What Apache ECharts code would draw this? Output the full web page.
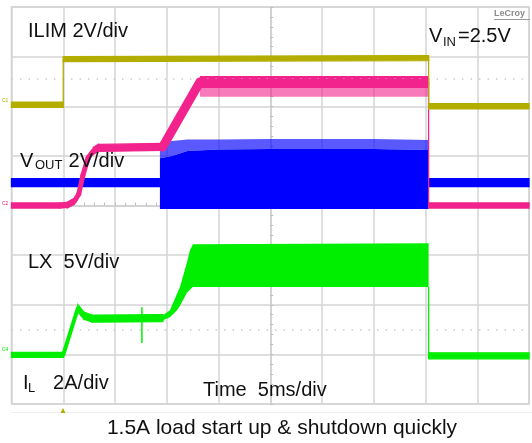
<!DOCTYPE html>
<html><head><meta charset="utf-8">
<script src="https://cdn.jsdelivr.net/npm/echarts@6/dist/echarts.min.js"></script>
<style>html,body{margin:0;padding:0;background:#fff;}#c{width:532px;height:443px;}</style>
</head><body><div id="c"></div>
<script>
// time in ms relative to screen centre (5 ms/div), amplitude in divisions
// ILIM (yellow)
const ilimT = [-25, -20, -20, 15.3, 15.3, 25];
const ilimV = [2.03, 2.03, 2.95, 2.97, 2.0, 2.0];
// VOUT (pink)
const voutT = [-25, -20.3, -19.6, -18.9, -18.5, -18.1, -17.6, -17.1, -16.6, -10.4, -6.8, 15.3, 15.3, 25];
const voutV = [0.0, 0.0, 0.01, 0.09, 0.23, 0.61, 0.96, 1.1, 1.16, 1.18, 2.49, 2.49, 0.0, 0.0];
// VOUT noisy plateau envelope
const voutBandT = [-6.8, 15.3];
const voutCoreLo = [2.37, 2.37];
const voutCoreHi = [2.61, 2.61];
const voutSpikeLo = [2.19, 2.19];
// LX (blue) quiet parts
const lxPreT = [-25, -10.66];
const lxPreV = [0.46, 0.46];
const lxPostT = [15.3, 25];
const lxPostV = [0.46, 0.46];
// LX switching envelope
const lxBandT = [-10.66, -9.5, -8.0, -5.0, 0, 10, 15.3];
const lxBandLo = [-0.07, -0.07, -0.07, -0.07, -0.07, -0.07, -0.07];
const lxBandHi = [0.95, 1.0, 1.1, 1.13, 1.14, 1.14, 1.12];
const lxSpikeHi = [1.26, 1.3, 1.33, 1.33, 1.34, 1.34, 1.32];
// IL (green)
const ilT = [-25, -20, -18.59, -18.0, -17.2, -10.37];
const ilV = [-3.01, -3.01, -2.07, -2.22, -2.28, -2.27];
const ilSpikeT = [-12.4, -12.4];
const ilSpikeV = [-2.05, -2.77];
const ilBandT = [-10.37, -9.69, -9.01, -8.72, -8.05, -7.76, -7.47, 15.3];
const ilBandLo = [-2.31, -2.25, -2.11, -2.02, -1.76, -1.70, -1.64, -1.64];
const ilBandHi = [-2.21, -2.11, -1.78, -1.64, -1.15, -0.90, -0.78, -0.76];
const ilPostT = [15.3, 15.3, 25];
const ilPostV = [-1.64, -3.03, -3.03];
// cursor lines
const cursorLevels = [2.55, -2.51];

// style: per-segment vertical trace thickness (px) and stroke width (px)
const ilimSegH = [5, 0, 5, 0, 5];
const ilimSegW = [1.3, 1.3, 1.3, 1.3, 1.3];
const voutSegH = [5, 5, 6, 0, 0, 0, 0, 7, 7, 0, 5, 0, 5];
const voutSegW = [1.3, 1.3, 1.3, 5, 5, 5, 5, 1.3, 1.3, 9, 1.3, 1.3, 1.3];
const lxPreSegH = [8], lxPreSegW = [1.3];
const lxPostSegH = [8], lxPostSegW = [1.3];
const ilSegH = [5, 0, 7, 7, 7];
const ilSegW = [1.3, 4, 1.3, 1.3, 1.3];
const ilPostSegH = [0, 6];
const ilPostSegW = [1.3, 1.3];

const YEL = '#b3ad00', PINK = '#f2238c', BLUE = '#0000ff', GREEN = '#00ee00';

function pairs(t, v) { return t.map((x, i) => [x, v[i]]); }
function trace(name, t, v, segH, segW, color, z) {
  return { name, type: 'custom', silent: true, animation: false, z, data: pairs(t, v),
    renderItem: function (params, api) {
      if (params.dataIndex !== 0) return null;
      const children = [];
      for (let i = 0; i < t.length - 1; i++) {
        const p1 = api.coord([t[i], v[i]]), p2 = api.coord([t[i + 1], v[i + 1]]);
        const h = segH[i] / 2;
        if (h > 0) {
          children.push({ type: 'polygon', shape: { points: [[p1[0], p1[1] - h], [p2[0], p2[1] - h], [p2[0], p2[1] + h], [p1[0], p1[1] + h]] },
            style: { fill: color, stroke: color, lineWidth: 1.3 } });
        } else {
          children.push({ type: 'line', shape: { x1: p1[0], y1: p1[1], x2: p2[0], y2: p2[1] },
            style: { stroke: color, lineWidth: segW[i], lineCap: segW[i] > 2 ? 'round' : 'butt' } });
        }
      }
      return { type: 'group', children };
    } };
}
function band(name, t, lo, hi, color, opacity, z) {
  return { name, type: 'custom', silent: true, animation: false, z,
    data: t.map((x, i) => [x, lo[i], hi[i]]),
    renderItem: function (params, api) {
      if (params.dataIndex !== 0) return null;
      const pts = [];
      for (let i = 0; i < t.length; i++) pts.push(api.coord([t[i], lo[i]]));
      for (let i = t.length - 1; i >= 0; i--) pts.push(api.coord([t[i], hi[i]]));
      return { type: 'polygon', shape: { points: pts }, style: { fill: color, opacity } };
    } };
}

const chart = echarts.init(document.getElementById('c'), null, { renderer: 'canvas' });
const TXT = '"Liberation Sans", Arial, sans-serif';
function txt(x, y, s, size, color, align) {
  return { type: 'text', x, y, z: 100, style: { text: s, font: size + 'px ' + TXT, fill: color || '#111',
    textAlign: align || 'left', textVerticalAlign: 'middle' } };
}

chart.setOption({
  backgroundColor: '#fff',
  animation: false,
  grid: { left: 11.5, right: 3, top: 7, bottom: 39, show: true, borderColor: '#cfcfcf', borderWidth: 1.5 },
  xAxis: { type: 'value', min: -25, max: 25, interval: 5,
    axisLabel: { show: false },
    axisLine: { show: true, onZero: true, lineStyle: { color: '#cfcfcf', width: 1.5 } },
    axisTick: { show: true, length: 3, inside: true, lineStyle: { color: '#bdbdbd' } },
    minorTick: { show: true, splitNumber: 5, length: 3, lineStyle: { color: '#bdbdbd' } },
    splitLine: { show: true, lineStyle: { color: '#d4d4d4', width: 1.5 } } },
  yAxis: { type: 'value', min: -4, max: 4, interval: 1,
    axisLabel: { show: false },
    axisLine: { show: true, onZero: true, lineStyle: { color: '#cfcfcf', width: 1.5 } },
    axisTick: { show: true, length: 3, inside: true, lineStyle: { color: '#bdbdbd' } },
    minorTick: { show: true, splitNumber: 5, length: 3, lineStyle: { color: '#bdbdbd' } },
    splitLine: { show: true, lineStyle: { color: '#d4d4d4', width: 1.5 } } },
  series: [
    { type: 'line', data: [], silent: true,
      markLine: { silent: true, symbol: 'none', label: { show: false }, animation: false,
        lineStyle: { color: '#cccccc', type: [1.5, 7], width: 1.5 },
        data: cursorLevels.map(v => ({ yAxis: v })) } },
    band('lxSpike', lxBandT, lxBandHi, lxSpikeHi, BLUE, 0.65, 2),
    band('lxBand', lxBandT, lxBandLo, lxBandHi, BLUE, 1, 3),
    trace('lxPre', lxPreT, lxPreV, lxPreSegH, lxPreSegW, BLUE, 3),
    trace('lxPost', lxPostT, lxPostV, lxPostSegH, lxPostSegW, BLUE, 3),
    band('voutSpike', voutBandT, voutSpikeLo, voutCoreLo, PINK, 0.6, 4),
    band('voutCore', voutBandT, voutCoreLo, voutCoreHi, PINK, 1, 4),
    trace('vout', voutT, voutV, voutSegH, voutSegW, PINK, 5),
    trace('ilim', ilimT, ilimV, ilimSegH, ilimSegW, YEL, 5),
    band('ilBand', ilBandT, ilBandLo, ilBandHi, GREEN, 1, 5),
    trace('il', ilT, ilV, ilSegH, ilSegW, GREEN, 6),
    { name: 'ilSpike', type: 'line', data: pairs(ilSpikeT, ilSpikeV), showSymbol: false, silent: true, animation: false,
      lineStyle: { color: GREEN, width: 1.5 }, z: 6 },
    trace('ilPost', ilPostT, ilPostV, ilPostSegH, ilPostSegW, GREEN, 6)
  ],
  graphic: [
    txt(28, 31, 'ILIM 2V/div', 20),
    txt(20, 161, 'V', 20), txt(35, 165, 'OUT', 13), txt(63, 161, ' 2V/div', 20),
    txt(28, 262, 'LX  5V/div', 20),
    txt(23, 383, 'I', 20), txt(28, 388, 'L', 13), txt(42, 383, '  2A/div', 20),
    txt(203, 390, 'Time  5ms/div', 20),
    txt(429, 36, 'V', 20), txt(443, 42, 'IN', 13), txt(458, 36, '=2.5V', 20),
    { type: 'text', x: 494, y: 14, z: 100, style: { text: 'LeCroy', font: 'bold 9px ' + TXT, fill: '#8a8a8a', textVerticalAlign: 'middle' } },
    { type: 'line', z: 100, shape: { x1: 494, y1: 19.5, x2: 530, y2: 19.5 }, style: { stroke: '#9a9a9a', lineWidth: 1 } },
    txt(282, 428, '1.5A load start up & shutdown quickly', 21, '#111', 'center'),
    txt(2, 101, 'C1', 5, YEL), txt(2, 204, 'C2', 5, PINK), txt(2, 350, 'C4', 5, GREEN),
    { type: 'polygon', z: 100, shape: { points: [[60.5, 413], [65.5, 413], [63, 408]] }, style: { fill: YEL } },
    { type: 'line', z: 0, shape: { x1: 11, y1: 412.5, x2: 532, y2: 412.5 }, style: { stroke: '#eeeeee', lineWidth: 1 } }
  ]
});
</script></body></html>
